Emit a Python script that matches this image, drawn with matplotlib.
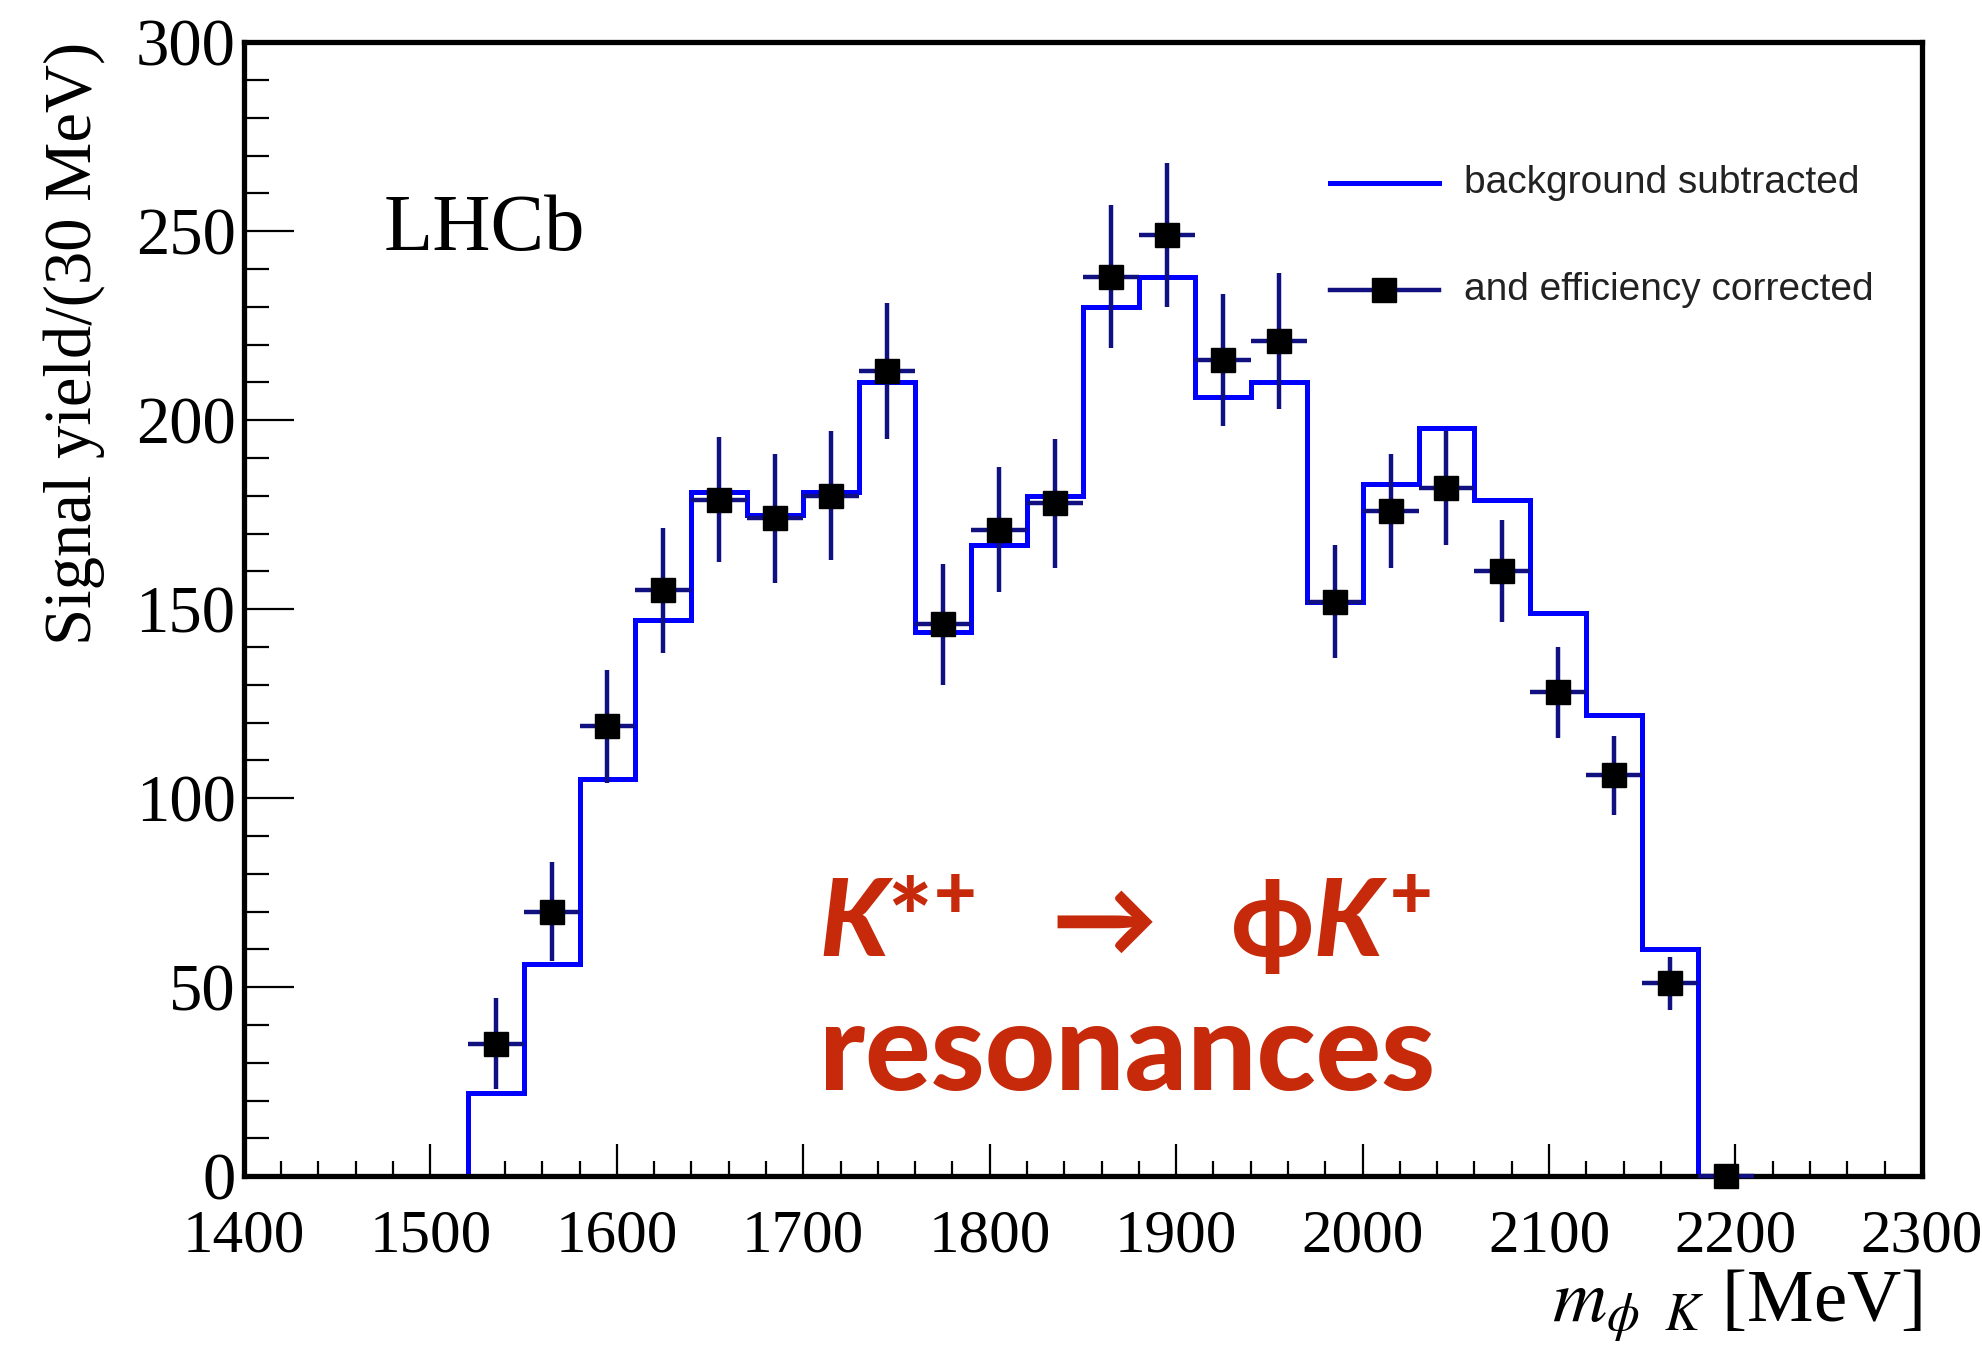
import numpy as np
import matplotlib
matplotlib.use("Agg")
import matplotlib.pyplot as plt
from matplotlib.ticker import MultipleLocator

# phi K invariant mass, 30 MeV bins from 1400 to 2300
bin_lo = 1400
bin_width = 30
# background subtracted yield per bin
bkg_sub = [0, 0, 0, 0,
           22, 56, 105, 147, 181, 175, 181, 210, 144, 167, 180,
           230, 238, 206, 210, 152, 183, 198, 179, 149, 122, 60,
           0, 0, 0, 0]
# background subtracted and efficiency corrected points
pt_mass = [1535, 1565, 1595, 1625, 1655, 1685, 1715, 1745, 1775, 1805, 1835, 1865,
           1895, 1925, 1955, 1985, 2015, 2045, 2075, 2105, 2135, 2165, 2195]
pt_yield = [35, 70, 119, 155, 179, 174, 180, 213, 146, 171, 178, 238,
            249, 216, 221, 152, 176, 182, 160, 128, 106, 51, 0]
pt_err = [12, 13, 15, 16.5, 16.5, 17, 17, 18, 16, 16.5, 17, 19,
          19, 17.5, 18, 15, 15, 15, 13.5, 12, 10.5, 7, 0]

edges = bin_lo + bin_width * np.arange(len(bkg_sub) + 1)

plt.rcParams['mathtext.fontset'] = 'custom'
plt.rcParams['mathtext.rm'] = 'Lato:black'
plt.rcParams['mathtext.it'] = 'Lato:italic:black'
plt.rcParams['mathtext.bf'] = 'Lato:black'
plt.rcParams['mathtext.fallback'] = 'stixsans'

fig = plt.figure(figsize=(19.83, 13.55), dpi=100)
ax = fig.add_axes([0.123, 0.132, 0.8462, 0.8369])

ax.stairs(bkg_sub, edges, color='#0000ff', lw=3.6, zorder=2)
ax.errorbar(pt_mass, pt_yield, yerr=pt_err, xerr=bin_width / 2, fmt='s',
            color='black', ms=17, ecolor='#101080', elinewidth=3.2, capsize=0,
            zorder=3, clip_on=False)

ax.set_xlim(1400, 2300)
ax.set_ylim(0, 300)
ax.xaxis.set_major_locator(MultipleLocator(100))
ax.xaxis.set_minor_locator(MultipleLocator(20))
ax.yaxis.set_major_locator(MultipleLocator(50))
ax.yaxis.set_minor_locator(MultipleLocator(10))
ax.tick_params(axis='both', which='both', direction='in', width=1.6, colors='black')
ax.tick_params(axis='x', which='major', length=23, pad=24)
ax.tick_params(axis='x', which='minor', length=11)
ax.tick_params(axis='y', which='major', length=36, pad=6)
ax.tick_params(axis='y', which='minor', length=18)
for lab in ax.get_xticklabels():
    lab.set_fontfamily('Liberation Serif')
    lab.set_fontsize(44)
for lab in ax.get_yticklabels():
    lab.set_fontfamily('Liberation Serif')
    lab.set_fontsize(48)
for sp in ax.spines.values():
    sp.set_linewidth(3.8)

ax.set_ylabel('Signal yield/(30 MeV)', family='Liberation Serif', fontsize=48,
              loc='top', labelpad=22)
ax.set_xlabel(r'$m_{\phi\ \ K}$ [MeV]', family='Liberation Serif', fontsize=54,
              loc='right', labelpad=2, math_fontfamily='stix')

ax.text(0.083, 0.817, 'LHCb', transform=ax.transAxes, family='Liberation Serif',
        fontsize=58, ha='left', va='baseline')

# hand-drawn legend
leg_font = dict(family='Liberation Sans', fontsize=28, color='#222222',
                transform=ax.transAxes, va='center', ha='left')
ax.plot([0.647, 0.712], [0.876, 0.876], color='#0000ff', lw=3.6,
        transform=ax.transAxes)
ax.text(0.727, 0.876, 'background subtracted', **leg_font)
ax.plot([0.647, 0.712], [0.781, 0.781], color='#101080', lw=3.2,
        transform=ax.transAxes)
ax.plot([0.6795], [0.781], 's', color='black', ms=17, transform=ax.transAxes)
ax.text(0.727, 0.781, 'and efficiency corrected', **leg_font)

red = '#c62a0b'
ax.text(0.343, 0.193, r'$K\mathrm{*}^{+}\ \ \rightarrow\ \ \mathrm{ϕ}K^{+}$',
        transform=ax.transAxes, color=red, fontsize=76, ha='left', va='baseline')
ax.text(0.343, 0.076, 'resonances', transform=ax.transAxes, color=red,
        family='Lato', weight='black', fontsize=88, ha='left', va='baseline')

fig.savefig('out.png', dpi=100)
